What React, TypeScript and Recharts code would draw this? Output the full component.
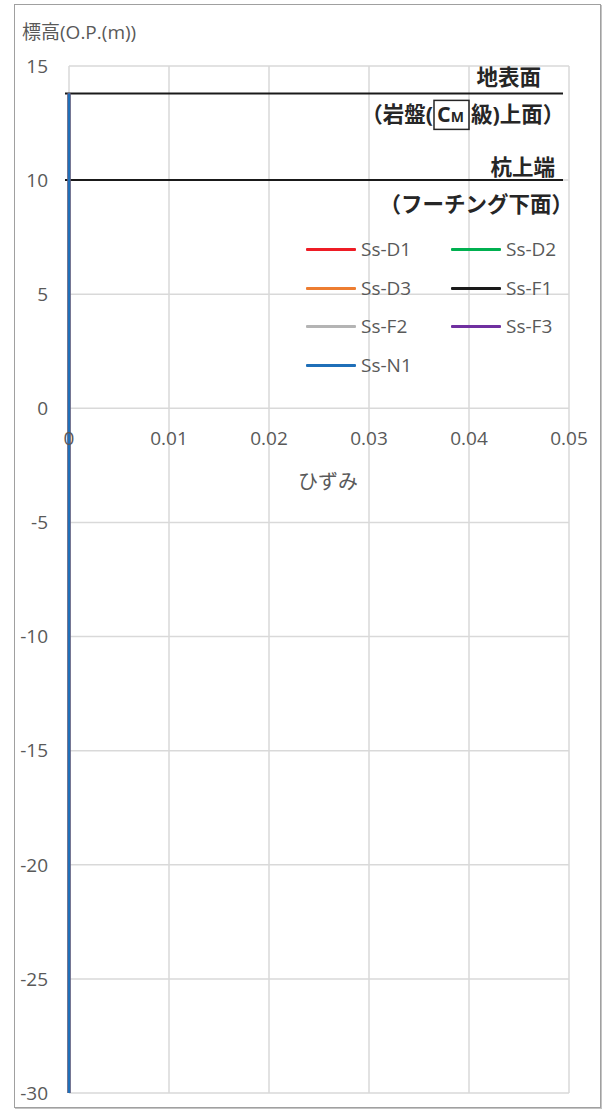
import React from "react";
import {
  LineChart,
  Line,
  XAxis,
  YAxis,
  CartesianGrid,
  ReferenceLine,
  ReferenceDot,
} from "recharts";

// ---- data ----
const xTicks = [0, 0.01, 0.02, 0.03, 0.04, 0.05];
const yTicks = [15, 10, 5, 0, -5, -10, -15, -20, -25, -30];
const depths = [13.8, 10, 5, 0, -5, -10, -15, -20, -25, -30];
const strainD1 = [0, 0, 0, 0, 0, 0, 0, 0, 0, 0];
const strainD2 = [0, 0, 0, 0, 0, 0, 0, 0, 0, 0];
const strainD3 = [0, 0, 0, 0, 0, 0, 0, 0, 0, 0];
const strainF1 = [0, 0, 0, 0, 0, 0, 0, 0, 0, 0];
const strainF2 = [0, 0, 0, 0, 0, 0, 0, 0, 0, 0];
const strainF3 = [0, 0, 0, 0, 0, 0, 0, 0, 0, 0];
const strainN1 = [0, 0, 0, 0, 0, 0, 0, 0, 0, 0];
const seriesNames = ["Ss-D1", "Ss-D2", "Ss-D3", "Ss-F1", "Ss-F2", "Ss-F3", "Ss-N1"];
const seriesColors = ["#EE1C25", "#00B050", "#ED7D31", "#1A1A1A", "#B4B4B4", "#7030A0", "#1F6FB8"];
const seriesStrains = [strainD1, strainD2, strainD3, strainF1, strainF2, strainF3, strainN1];
const groundLevel = 13.8;
const pileTop = 10;
const markerLineX = [-0.0004, 0.0494];

const series = seriesNames.map((name, i) => ({
  name,
  color: seriesColors[i],
  data: depths.map((d, j) => ({ x: seriesStrains[i][j], y: d })),
}));

const FONT = "'Open Sans', 'Noto Sans CJK JP', sans-serif";
const TXT = "#595959";
const DARK = "#262626";

const XTickLabel = (props: any) => {
  const vb = props.viewBox;
  if (!vb) return null;
  const cx = vb.x + vb.width / 2;
  const cy = vb.y + vb.height / 2;
  return (
    <text x={cx} y={cy + 37} textAnchor="middle" fontSize={19} fontFamily={FONT} fill={TXT}>
      {props.value}
    </text>
  );
};

const XTitle = (props: any) => {
  const vb = props.viewBox;
  if (!vb) return null;
  const cx = vb.x + vb.width / 2;
  const cy = vb.y + vb.height / 2;
  return (
    <text x={cx + 9} y={cy + 81} textAnchor="middle" fontSize={20} fontFamily={FONT} fill={TXT}>
      ひずみ
    </text>
  );
};

const YTitle = (props: any) => {
  const vb = props.viewBox;
  if (!vb) return null;
  return (
    <text x={vb.x + 8} y={vb.y - 27} textAnchor="start" fontSize={19} fontFamily={FONT} fill={TXT}>
      標高(O.P.(m))
    </text>
  );
};

const GroundLabel = (props: any) => {
  const vb = props.viewBox;
  if (!vb) return null;
  const ex = vb.x + vb.width;
  const y = vb.y;
  const bx = ex - 129;
  const bw = 35;
  return (
    <g fontFamily={FONT} fontWeight="bold" fontSize={21.5} fill={DARK}>
      <text x={ex - 22} y={y - 8} textAnchor="end">地表面</text>
      <text x={bx - 1} y={y + 29} textAnchor="end">（岩盤(</text>
      <rect x={bx} y={y + 7} width={bw} height={29} fill="none" stroke={DARK} strokeWidth={1.5} />
      <text x={bx + 3} y={y + 29} textAnchor="start">
        C<tspan fontSize={14}>M</tspan>
      </text>
      <text x={bx + bw + 2} y={y + 29} textAnchor="start">級)上面）</text>
    </g>
  );
};

const PileLabel = (props: any) => {
  const vb = props.viewBox;
  if (!vb) return null;
  const ex = vb.x + vb.width;
  const y = vb.y;
  return (
    <g fontFamily={FONT} fontWeight="bold" fontSize={21.5} fill={DARK}>
      <text x={ex - 8} y={y - 5} textAnchor="end">杭上端</text>
      <text x={ex + 10} y={y + 32} textAnchor="end">（フーチング下面）</text>
    </g>
  );
};

const LegendBox = () => (
  <div
    style={{
      position: "absolute",
      left: 306,
      top: 230,
      display: "grid",
      gridTemplateColumns: "145px 145px",
      gridAutoRows: "38.7px",
      fontFamily: FONT,
      fontSize: 19,
      color: TXT,
    }}
  >
    {series.map((s) => (
      <div key={s.name} style={{ display: "flex", alignItems: "center" }}>
        <div style={{ width: 50, height: 3, background: s.color, borderRadius: 1, marginRight: 5 }} />
        <span style={{ lineHeight: "1" }}>{s.name}</span>
      </div>
    ))}
  </div>
);

export default function App() {
  return (
    <div style={{ position: "absolute", left: 0, top: 0, width: 604, height: 1110, background: "#fff" }}>
      <div
        style={{
          position: "absolute",
          left: 14,
          top: 4,
          width: 585,
          height: 1102,
          border: "1px solid #a0a0a0",
          boxShadow: "1px 1px 0 #c4c4c4",
        }}
      />
      <div style={{ position: "absolute", left: 0, top: 0 }}>
        <LineChart width={604} height={1110} margin={{ top: 66, right: 35, bottom: 17, left: 14 }}>
          <CartesianGrid stroke="#d9d9d9" strokeWidth={1.5} />
          <XAxis type="number" dataKey="x" domain={[0, 0.05]} ticks={xTicks} hide />
          <YAxis
            type="number"
            dataKey="y"
            domain={[-30, 15]}
            ticks={yTicks}
            width={55}
            tickSize={0}
            tickMargin={21}
            axisLine={false}
            tickLine={false}
            tick={{ fontSize: 19, fontFamily: FONT, fill: TXT }}
            label={<YTitle />}
          />
          <ReferenceLine
            segment={[
              { x: markerLineX[0], y: groundLevel },
              { x: markerLineX[1], y: groundLevel },
            ]}
            stroke="#1a1a1a"
            strokeWidth={2}
            ifOverflow="visible"
            label={<GroundLabel />}
          />
          <ReferenceLine
            segment={[
              { x: markerLineX[0], y: pileTop },
              { x: markerLineX[1], y: pileTop },
            ]}
            stroke="#1a1a1a"
            strokeWidth={2}
            ifOverflow="visible"
            label={<PileLabel />}
          />
          {xTicks.map((t) => (
            <ReferenceDot
              key={t}
              x={t}
              y={0}
              r={0.01}
              fill="none"
              stroke="none"
              ifOverflow="visible"
              label={<XTickLabel value={String(t)} />}
            />
          ))}
          <ReferenceDot
            x={0.025}
            y={0}
            r={0.01}
            fill="none"
            stroke="none"
            ifOverflow="visible"
            label={<XTitle />}
          />
          {series.map((s) => (
            <Line
              key={s.name}
              data={s.data}
              dataKey="y"
              name={s.name}
              stroke={s.color}
              strokeWidth={2.5}
              dot={false}
              isAnimationActive={false}
            />
          ))}
        </LineChart>
      </div>
      <LegendBox />
    </div>
  );
}
